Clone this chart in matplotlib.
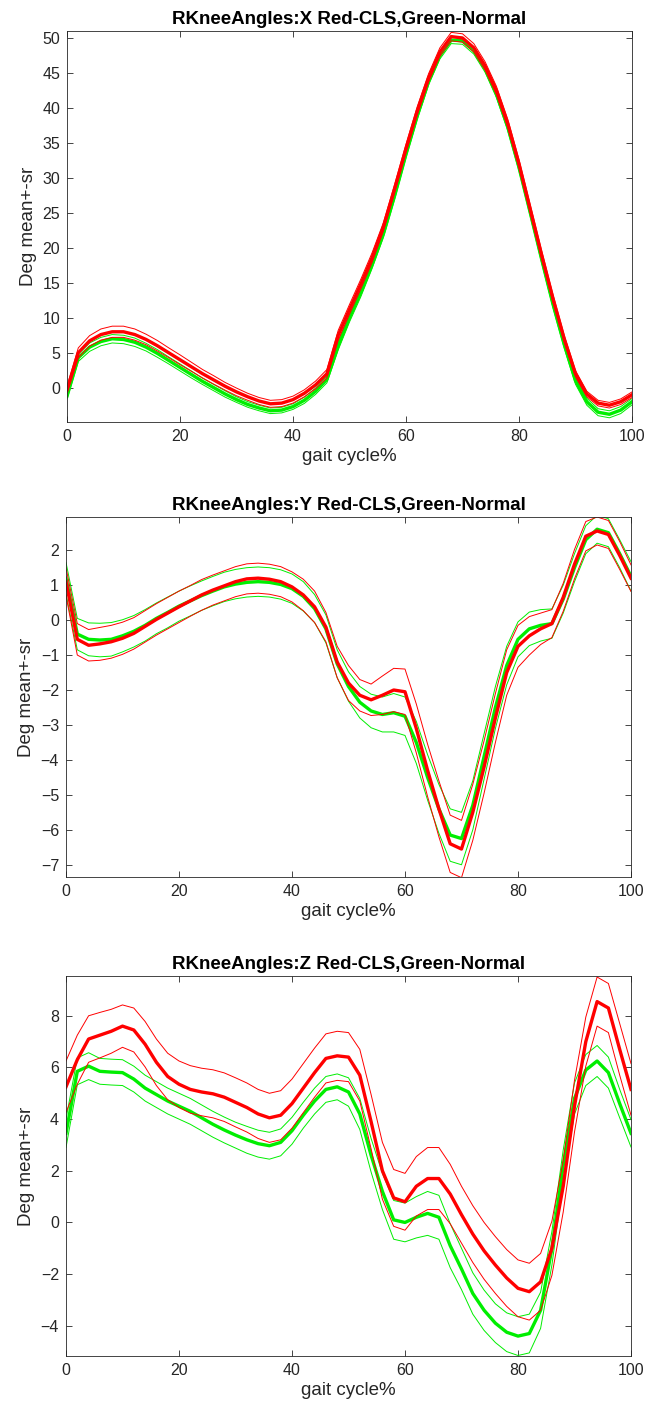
import numpy as np
import matplotlib
matplotlib.use('Agg')
import matplotlib.pyplot as plt

plt.rcParams['font.family'] = ['Liberation Sans', 'DejaVu Sans']

# gait cycle sampled every 2%
gait_pct = np.arange(0, 101, 2)

# ---- X (flexion/extension) ----
x_red_mean = [-0.3, 5.0, 6.7, 7.6, 8.0, 8.0, 7.6, 6.9, 6.0, 5.0, 4.0, 3.0, 2.0, 1.1, 0.2, -0.6,
              -1.3, -1.9, -2.3, -2.2, -1.7, -0.8, 0.4, 2.0, 7.5, 11.2, 14.8, 18.6, 23.0, 28.5,
              34.2, 39.6, 44.3, 48.0, 50.2, 50.0, 48.6, 46.0, 42.5, 37.8, 32.0, 25.5, 19.0,
              12.8, 7.0, 2.0, -0.9, -2.2, -2.5, -2.0, -1.0]
x_red_sd = [0.5, 0.7, 0.75, 0.8, 0.8, 0.8, 0.8, 0.75, 0.75, 0.7, 0.7, 0.65, 0.6, 0.6, 0.55, 0.55,
            0.5, 0.5, 0.5, 0.5, 0.5, 0.5, 0.55, 0.6, 0.7, 0.7, 0.7, 0.7, 0.6, 0.6,
            0.6, 0.6, 0.6, 0.6, 0.6, 0.6, 0.6, 0.6, 0.6, 0.6, 0.6, 0.6, 0.6,
            0.55, 0.5, 0.45, 0.4, 0.4, 0.4, 0.4, 0.4]
x_green_mean = [-1.2, 4.3, 5.8, 6.6, 7.0, 6.9, 6.5, 5.8, 4.9, 3.9, 2.9, 1.9, 0.9, 0.0, -0.9, -1.7,
                -2.4, -2.9, -3.3, -3.2, -2.7, -1.8, -0.5, 1.2, 6.0, 10.0, 13.6, 17.6, 22.0, 27.5,
                33.4, 38.9, 43.8, 47.5, 49.7, 49.6, 48.2, 45.6, 42.0, 37.3, 31.5, 25.0, 18.4,
                12.0, 6.2, 1.0, -2.0, -3.5, -3.8, -3.2, -2.0]
x_green_sd = [0.4, 0.55, 0.6, 0.6, 0.6, 0.6, 0.6, 0.55, 0.55, 0.5, 0.5, 0.5, 0.45, 0.45, 0.45, 0.4,
              0.4, 0.4, 0.4, 0.4, 0.4, 0.45, 0.45, 0.5, 0.6, 0.6, 0.6, 0.55, 0.5, 0.5,
              0.5, 0.5, 0.5, 0.5, 0.5, 0.5, 0.5, 0.5, 0.5, 0.5, 0.5, 0.5, 0.5,
              0.5, 0.5, 0.5, 0.5, 0.5, 0.5, 0.5, 0.45]

# ---- Y (ab/adduction) ----
y_red_mean = [1.1, -0.55, -0.72, -0.68, -0.62, -0.52, -0.38, -0.18, 0.02, 0.2, 0.38, 0.55, 0.72,
              0.86, 0.98, 1.1, 1.18, 1.2, 1.17, 1.1, 0.95, 0.72, 0.38, -0.2, -1.2, -1.8, -2.15,
              -2.28, -2.15, -2.0, -2.05, -3.1, -4.3, -5.4, -6.4, -6.55, -5.5, -4.2, -2.8, -1.5,
              -0.75, -0.45, -0.25, -0.1, 0.65, 1.6, 2.4, 2.55, 2.45, 1.85, 1.2]
y_red_sd = [0.4, 0.45, 0.45, 0.47, 0.47, 0.46, 0.45, 0.45, 0.45, 0.45, 0.45, 0.44, 0.44,
            0.43, 0.43, 0.43, 0.43, 0.43, 0.43, 0.43, 0.43, 0.45, 0.45, 0.42, 0.45, 0.5, 0.45,
            0.45, 0.55, 0.62, 0.65, 0.7, 0.75, 0.8, 0.82, 0.82, 0.8, 0.75, 0.7, 0.65,
            0.6, 0.55, 0.45, 0.4, 0.4, 0.42, 0.42, 0.4, 0.4, 0.4, 0.38]
y_green_mean = [1.2, -0.4, -0.55, -0.57, -0.55, -0.45, -0.32, -0.15, 0.05, 0.22, 0.4, 0.55, 0.7,
                0.83, 0.95, 1.03, 1.08, 1.1, 1.08, 1.02, 0.9, 0.68, 0.33, -0.25, -1.25, -1.9,
                -2.35, -2.6, -2.7, -2.65, -2.75, -3.5, -4.5, -5.4, -6.15, -6.25, -5.3, -3.9,
                -2.5, -1.3, -0.55, -0.25, -0.15, -0.1, 0.6, 1.5, 2.3, 2.6, 2.5, 1.9, 1.25]
y_green_sd = [0.45, 0.45, 0.47, 0.48, 0.48, 0.46, 0.45, 0.45, 0.44, 0.44, 0.43, 0.43, 0.42,
              0.42, 0.42, 0.42, 0.42, 0.42, 0.42, 0.42, 0.42, 0.42, 0.4, 0.4, 0.4, 0.42,
              0.45, 0.48, 0.5, 0.55, 0.55, 0.6, 0.65, 0.7, 0.75, 0.75, 0.7, 0.65,
              0.6, 0.55, 0.5, 0.48, 0.45, 0.42, 0.4, 0.4, 0.4, 0.4, 0.4, 0.4, 0.42]

# ---- Z (rotation) ----
z_red_mean = [5.25, 6.3, 7.1, 7.25, 7.4, 7.6, 7.45, 6.9, 6.2, 5.65, 5.35, 5.15, 5.05, 4.98,
              4.85, 4.65, 4.45, 4.2, 4.05, 4.15, 4.6, 5.2, 5.8, 6.35, 6.45, 6.4, 5.7, 3.9, 2.0,
              0.95, 0.8, 1.4, 1.7, 1.7, 1.1, 0.3, -0.45, -1.1, -1.65, -2.15, -2.55, -2.68, -2.3,
              -1.0, 1.4, 4.5, 7.0, 8.55, 8.3, 6.7, 5.15]
z_red_sd = [1.0, 0.95, 0.9, 0.88, 0.85, 0.82, 0.85, 0.88, 0.9, 0.9, 0.9, 0.92, 0.92, 0.93,
            0.94, 0.95, 0.95, 0.95, 0.95, 0.95, 0.95, 0.95, 0.95, 0.95, 0.95, 0.95, 1.0, 1.05, 1.1,
            1.1, 1.1, 1.15, 1.2, 1.2, 1.15, 1.1, 1.1, 1.1, 1.1, 1.1, 1.1, 1.1, 1.1,
            1.05, 1.0, 1.0, 0.95, 0.95, 0.95, 1.0, 1.0]
z_green_mean = [3.45, 5.85, 6.05, 5.85, 5.82, 5.8, 5.55, 5.2, 4.95, 4.7, 4.5, 4.3, 4.05, 3.8,
                3.58, 3.38, 3.2, 3.05, 2.97, 3.1, 3.55, 4.15, 4.7, 5.15, 5.25, 5.05, 4.2, 2.6,
                1.2, 0.1, 0.0, 0.2, 0.35, 0.2, -0.9, -1.8, -2.75, -3.4, -3.9, -4.25, -4.4, -4.3,
                -3.4, -1.0, 2.2, 4.8, 5.9, 6.25, 5.8, 4.6, 3.45]
z_green_sd = [0.55, 0.52, 0.52, 0.5, 0.5, 0.5, 0.5, 0.5, 0.5, 0.5, 0.5, 0.5, 0.5, 0.5,
              0.5, 0.5, 0.52, 0.52, 0.52, 0.52, 0.52, 0.5, 0.5, 0.5, 0.5, 0.55, 0.6, 0.65,
              0.7, 0.75, 0.75, 0.8, 0.85, 0.85, 0.85, 0.8, 0.8, 0.78, 0.75, 0.75, 0.75, 0.75,
              0.7, 0.65, 0.6, 0.6, 0.6, 0.6, 0.6, 0.55, 0.53]

titles = ['RKneeAngles:X Red-CLS,Green-Normal',
          'RKneeAngles:Y Red-CLS,Green-Normal',
          'RKneeAngles:Z Red-CLS,Green-Normal']
ylims = [(-4.9, 51.0), (-7.35, 2.95), (-5.17, 9.54)]
yticks = [np.arange(0, 51, 5), np.arange(-7, 3, 1), np.arange(-4, 9, 2)]
panels = [(x_red_mean, x_red_sd, x_green_mean, x_green_sd),
          (y_red_mean, y_red_sd, y_green_mean, y_green_sd),
          (z_red_mean, z_red_sd, z_green_mean, z_green_sd)]

W, H = 650, 1403
# axes boxes in pixels: left, top, right, bottom
boxes = [(67, 31, 632, 422), (66, 517, 631, 877), (66, 976, 631, 1356)]

RED = '#ff0000'
GREEN = '#00ee00'
EDGE = '#262626'

fig = plt.figure(figsize=(W / 100, H / 100), dpi=100)

for i in range(3):
    l, t, r, b = boxes[i]
    ax = fig.add_axes([l / W, 1 - b / H, (r - l) / W, (b - t) / H])
    rm, rs, gm, gs = [np.array(a) for a in panels[i]]

    # green group first, red on top
    ax.plot(gait_pct, gm + gs, color=GREEN, lw=0.7)
    ax.plot(gait_pct, gm - gs, color=GREEN, lw=0.7)
    ax.plot(gait_pct, gm, color=GREEN, lw=2.4)
    ax.plot(gait_pct, rm + rs, color=RED, lw=0.7)
    ax.plot(gait_pct, rm - rs, color=RED, lw=0.7)
    ax.plot(gait_pct, rm, color=RED, lw=2.4)

    ax.set_xlim(0, 100)
    ax.set_ylim(*ylims[i])
    ax.set_xticks(np.arange(0, 101, 20))
    ax.set_yticks(yticks[i])
    ax.tick_params(direction='in', top=True, right=True, length=4, width=0.6,
                   colors=EDGE, labelsize=11.5, pad=5)
    for s in ax.spines.values():
        s.set_color(EDGE)
        s.set_linewidth(0.6)
    ax.set_title(titles[i], fontsize=13.5, fontweight='bold', pad=5)
    ax.set_xlabel('gait cycle%', fontsize=13.5, color=EDGE, labelpad=3)
    ax.set_ylabel('Deg mean+-sr', fontsize=13.5, color=EDGE, labelpad=4)

fig.savefig('out.png', dpi=100)
